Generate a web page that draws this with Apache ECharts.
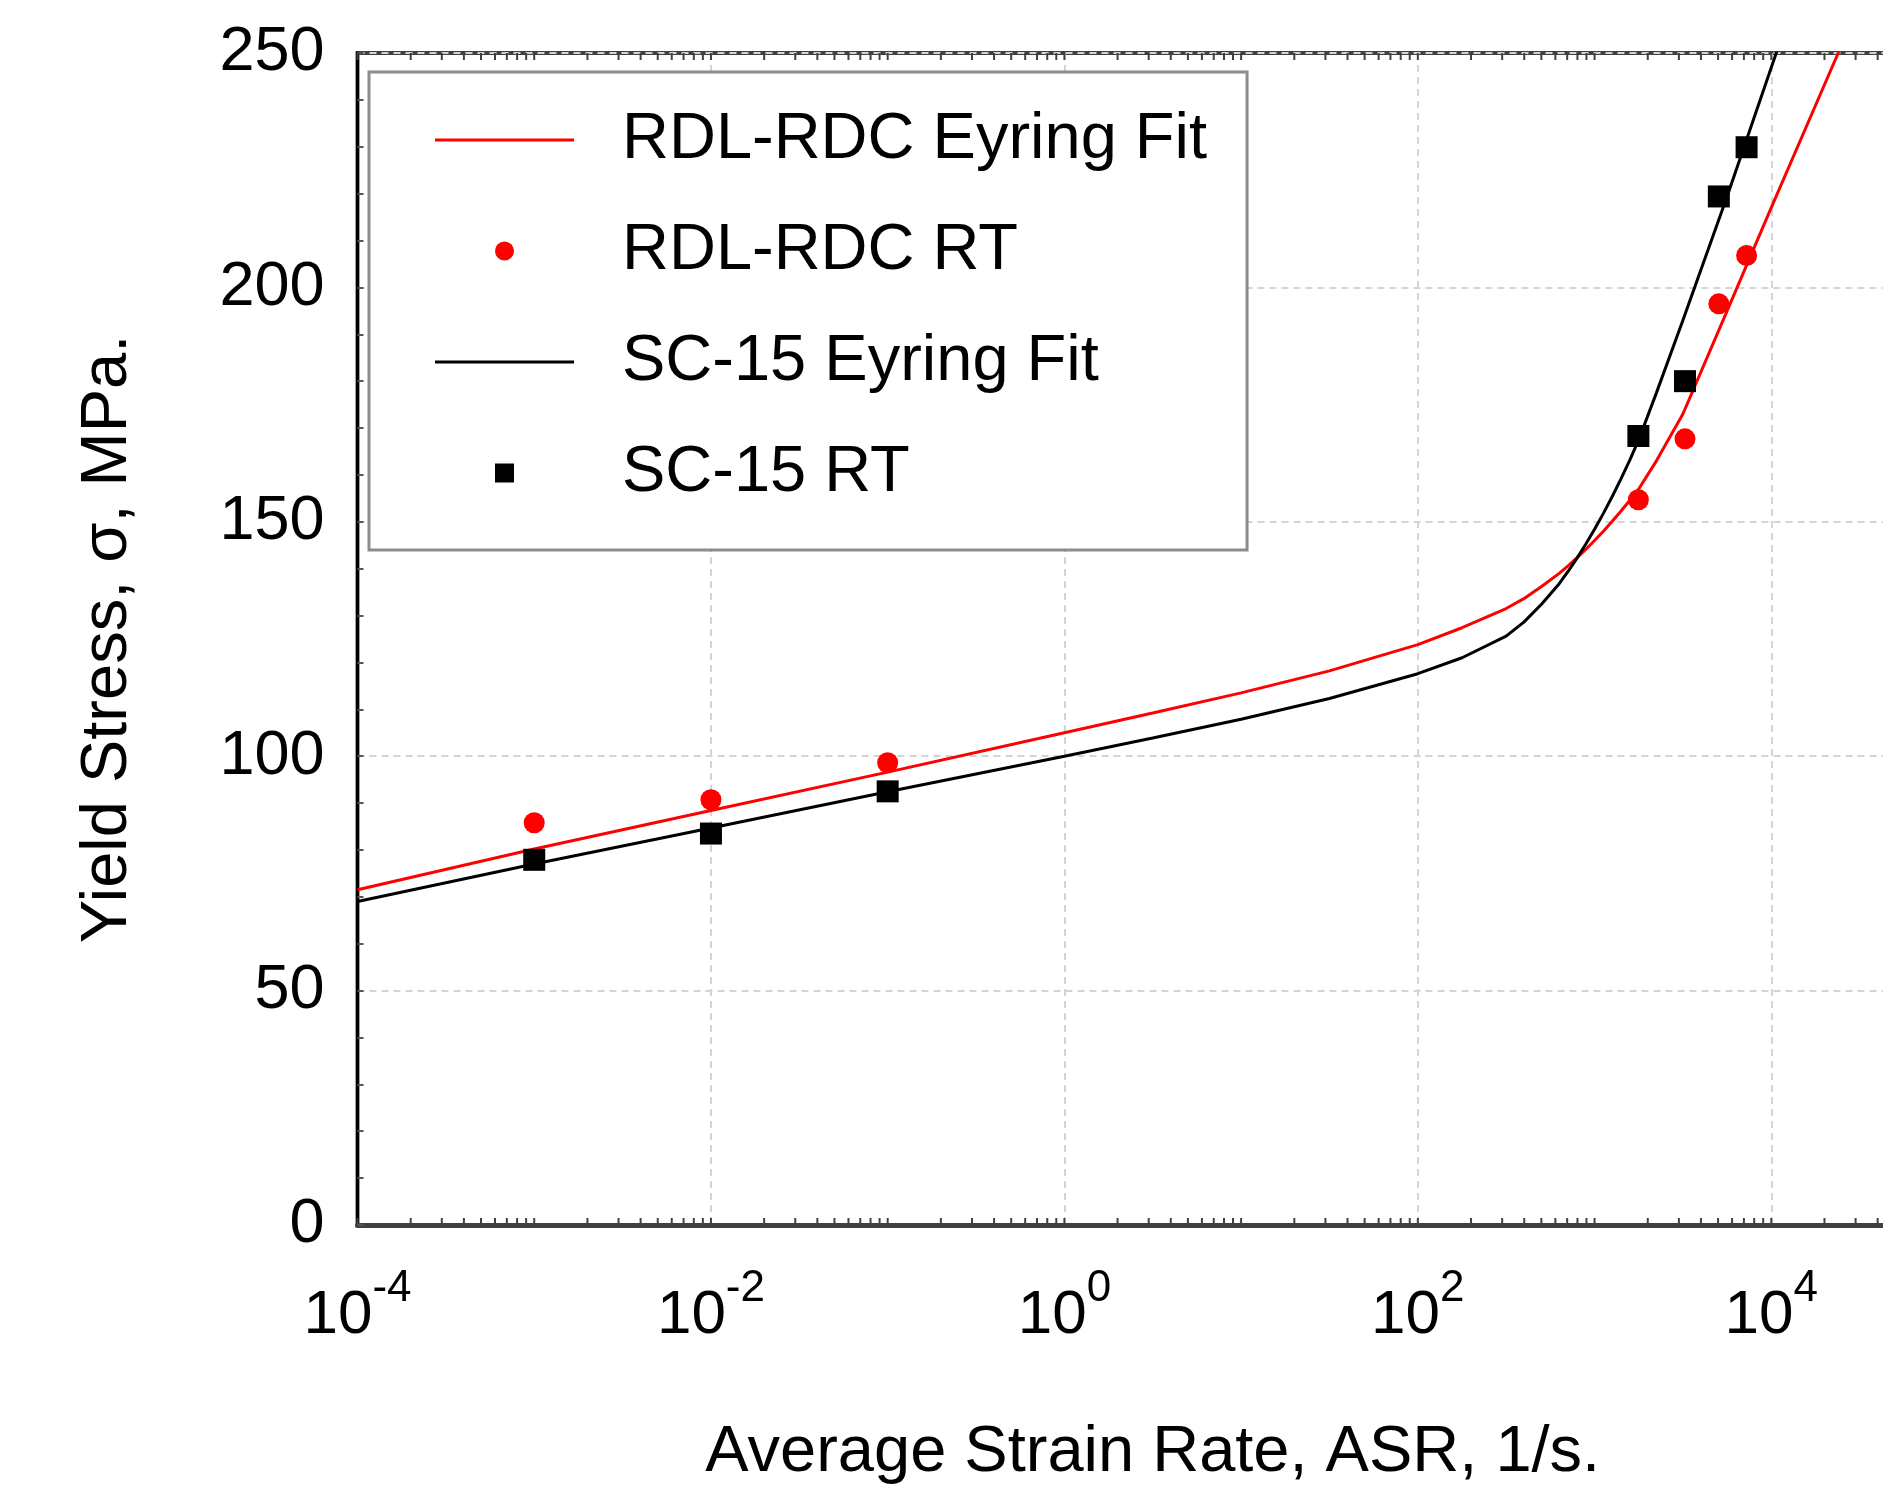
<!DOCTYPE html>
<html>
<head>
<meta charset="utf-8">
<script src="https://cdn.jsdelivr.net/npm/echarts@6/dist/echarts.min.js"></script>
<style>
  html, body { margin: 0; padding: 0; background: #ffffff; }
  #chart { width: 1883px; height: 1492px; }
</style>
</head>
<body>
<div id="chart"></div>
<script>
// ---------------- data ----------------
const seriesNames = ['RDL-RDC Eyring Fit', 'RDL-RDC RT', 'SC-15 Eyring Fit', 'SC-15 RT'];

// Eyring fit curves (x = strain rate 1/s, y = yield stress MPa)
const fitX = [0.0001, 0.001, 0.01, 0.1, 1, 3.16, 10, 31.6, 100, 178, 316, 398, 501, 631, 708, 794, 891, 1000, 1122, 1259, 1413, 1585, 1778, 2239, 3162, 5623, 10000, 17783, 28184];
const rdlFitY = [71.5, 80.2, 88.4, 96.6, 105.0, 109.2, 113.5, 118.2, 123.8, 127.4, 131.5, 133.6, 136.2, 139.0, 140.6, 142.3, 144.1, 146.0, 148.0, 150.1, 152.3, 154.6, 157.0, 163.0, 173.0, 195.0, 217.0, 238.8, 256.2];
const scFitY  = [69.0, 77.0, 84.7, 92.4, 100.0, 103.9, 107.9, 112.3, 117.6, 121.0, 125.6, 128.6, 132.4, 136.8, 139.4, 142.2, 145.2, 148.4, 151.8, 155.4, 159.2, 163.2, 167.5, 177.5, 193.0, 219.4, 246.9, 274.4, 296.4];

// Room-temperature test points
const testX  = [0.001, 0.01, 0.1, 1770, 3250, 5050, 7250];
const rdlRtY = [85.8, 90.7, 98.6, 154.7, 167.7, 196.5, 206.8];
const scRtY  = [77.9, 83.5, 92.5, 168.3, 180.0, 219.4, 229.9];

// Axes
const xMin = 1e-4, xMax = 1e5;
const yMin = 0, yMax = 250, yInterval = 50;
const xTickExponents = { '-4': '-4', '-2': '-2', '0': '0', '2': '2', '4': '4' };
const yTickLabels = ['0', '50', '100', '150', '200', '250'];
const xDecades = [-4, -3, -2, -1, 0, 1, 2, 3, 4];
const xMinorMultipliers = [1, 2, 3, 4, 5, 6, 7, 8, 9];

// ---------------- build ----------------
const FONT = '"Liberation Sans", Arial, Helvetica, sans-serif';
const pairs = (xs, ys) => xs.map((x, i) => [x, ys[i]]);
const tickData = [];
xDecades.forEach(d => xMinorMultipliers.forEach(m => tickData.push([m * Math.pow(10, d), 0])));

const LINE_ICON = 'path://M0,0 L139,0 L139,3 L0,3 Z';
const SQUARE_ICON = 'path://M0,0 L10,0 L10,10 L0,10 Z';

const chart = echarts.init(document.getElementById('chart'), null, { renderer: 'canvas' });

const option = {
  backgroundColor: '#ffffff',
  animation: false,
  textStyle: { fontFamily: FONT, color: '#000' },
  grid: {
    left: 357.5, top: 53, bottom: 267, right: -65,
    containLabel: false, outerBoundsMode: 'none',
    show: true, borderColor: '#404040', borderWidth: 4, backgroundColor: 'transparent'
  },
  legend: {
    orient: 'vertical', left: 369, top: 72,
    itemWidth: 139, itemHeight: 19, itemGap: 39,
    padding: [32, 40, 41, 66],
    symbolKeepAspect: true,
    backgroundColor: '#ffffff', borderColor: '#8c8c8c', borderWidth: 3, borderRadius: 0,
    textStyle: { fontSize: 65, fontFamily: FONT, color: '#000', lineHeight: 72, padding: [0, 0, 0, 43] },
    selectedMode: false,
    data: [
      { name: seriesNames[0], icon: LINE_ICON, itemStyle: { color: '#ff0000' } },
      { name: seriesNames[1], icon: 'circle' },
      { name: seriesNames[2], icon: LINE_ICON, itemStyle: { color: '#000000' } },
      { name: seriesNames[3], icon: SQUARE_ICON }
    ]
  },
  xAxis: {
    type: 'log', logBase: 10, min: xMin, max: xMax, interval: 2,
    name: 'Average Strain Rate, ASR, 1/s.', nameLocation: 'middle', nameGap: 196,
    nameMoveOverlap: false,
    nameTextStyle: { fontSize: 65, fontFamily: FONT, color: '#000' },
    axisLine: { show: true, onZero: false, lineStyle: { color: '#404040', width: 5 } },
    axisTick: { show: false },
    minorTick: { show: false },
    splitLine: { show: true, lineStyle: { color: '#d4d4d4', width: 2, type: [7, 5] } },
    axisLabel: {
      margin: 42,
      formatter: function (v) {
        const e = String(Math.round(Math.log10(v)));
        return '{b|10}{s|' + (xTickExponents[e] !== undefined ? xTickExponents[e] : e) + '}';
      },
      rich: {
        b: { fontSize: 62, lineHeight: 98, fontFamily: FONT, color: '#000' },
        s: { fontSize: 44, lineHeight: 44, fontFamily: FONT, color: '#000', verticalAlign: 'top' }
      }
    }
  },
  yAxis: {
    type: 'value', min: yMin, max: yMax, interval: yInterval,
    name: 'Yield Stress, \u03c3, MPa.', nameLocation: 'middle', nameGap: 217,
    nameMoveOverlap: false,
    nameTextStyle: { fontSize: 65, fontFamily: FONT, color: '#000' },
    axisLine: { show: true, lineStyle: { color: '#000', width: 3 } },
    axisTick: { show: true, inside: true, length: 6, lineStyle: { color: '#555', width: 2 } },
    minorTick: { show: true, splitNumber: 5, length: 6, lineStyle: { color: '#555', width: 2 } },
    splitLine: { show: true, lineStyle: { color: '#d4d4d4', width: 2, type: [7, 5] } },
    axisLabel: {
      margin: 33, fontSize: 63, fontFamily: FONT, color: '#000',
      formatter: function (v) { return yTickLabels[Math.round(v / yInterval)]; }
    }
  },
  series: [
    {
      name: 'xticks', type: 'custom', silent: true, z: 5,
      encode: { x: 0, y: 1 },
      data: tickData,
      renderItem: function (params, api) {
        const v = api.value(0);
        const pb = api.coord([v, yMin]);
        const pt = api.coord([v, yMax]);
        const st = { stroke: '#404040', lineWidth: 2 };
        return {
          type: 'group', children: [
            { type: 'line', shape: { x1: pb[0], y1: pb[1], x2: pb[0], y2: pb[1] - 7 }, style: st },
            { type: 'line', shape: { x1: pt[0], y1: pt[1], x2: pt[0], y2: pt[1] + 7 }, style: st }
          ]
        };
      }
    },
    {
      name: seriesNames[0], type: 'line', data: pairs(fitX, rdlFitY),
      symbol: 'none', smooth: false, clip: true, z: 3,
      lineStyle: { color: '#ff0000', width: 3 }, itemStyle: { color: '#ff0000' }
    },
    {
      name: seriesNames[1], type: 'scatter', data: pairs(testX, rdlRtY),
      symbol: 'circle', symbolSize: 21, z: 4,
      itemStyle: { color: '#ff0000', opacity: 1 }
    },
    {
      name: seriesNames[2], type: 'line', data: pairs(fitX, scFitY),
      symbol: 'none', smooth: false, clip: true, z: 3,
      lineStyle: { color: '#000000', width: 3 }, itemStyle: { color: '#000000' }
    },
    {
      name: seriesNames[3], type: 'scatter', data: pairs(testX, scRtY),
      symbol: 'rect', symbolSize: 22, z: 4,
      itemStyle: { color: '#000000', opacity: 1 }
    }
  ]
};
chart.setOption(option);
</script>
</body>
</html>
